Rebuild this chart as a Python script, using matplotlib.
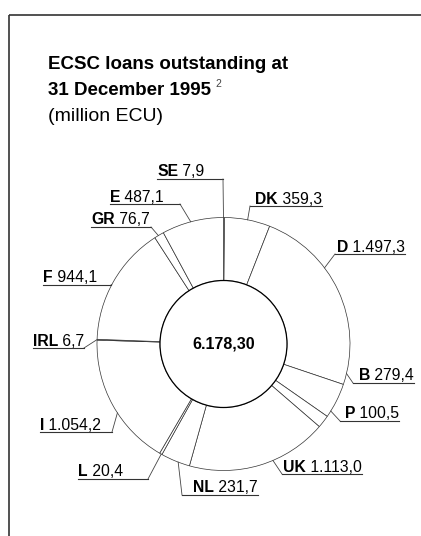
import numpy as np
import matplotlib
matplotlib.use("Agg")
import matplotlib.pyplot as plt
from matplotlib.patches import Circle

# loans outstanding, million ECU, clockwise from 12 o'clock
countries = ["SE", "DK", "D", "B", "P", "UK", "NL", "L", "I", "IRL", "F", "GR", "E"]
loans = [7.9, 359.3, 1497.3, 279.4, 100.5, 1113.0, 231.7, 20.4, 1054.2, 6.7, 944.1, 76.7, 487.1]

W, H = 421, 536
CX, CY, R_OUT, R_IN = 223.5, 344, 126.5, 63.5

# label layout (pixel coords from top-left): text x, underline y, join point, ring angle
layout = {
    "SE":  (157, 179, (223, 179), 0),
    "E":   (110, 204, (180, 204), 345),
    "DK":  (255, 206, (250, 206), 11),
    "GR":  (91, 227, (151, 227), 329),
    "D":   (337, 254, (335, 254), 53),
    "F":   (43, 285, (111, 285), 298),
    "IRL": (33, 348, (84, 348), 272),
    "B":   (359, 383, (353, 383), 103.5),
    "P":   (345, 421, (340, 421), 122),
    "UK":  (283, 474, (282, 474), 157),
    "NL":  (193, 495, (182, 495), 201),
    "L":   (78, 479, (148, 479), 209.5),
    "I":   (40, 432, (112, 432), 237),
}

def Y(y):
    return H - y

def eu(v, nd=1):
    s = f"{v:,.{nd}f}"
    return s.replace(",", "#").replace(".", ",").replace("#", ".")

def ring_point(ang):
    a = np.deg2rad(ang)
    return CX + R_OUT * np.sin(a), CY - R_OUT * np.cos(a)

fig = plt.figure(figsize=(W / 100, H / 100), dpi=100)
ax = fig.add_axes([0, 0, 1, 1])

ax.pie(loans, startangle=90, counterclock=False, center=(CX, Y(CY)), radius=R_OUT,
       wedgeprops=dict(width=R_OUT - R_IN, facecolor="white", edgecolor="#333333", linewidth=0.5))
ax.add_patch(Circle((CX, Y(CY)), R_IN, facecolor="white", edgecolor="black", linewidth=0.9))
ax.set_xlim(0, W)
ax.set_ylim(0, H)
ax.set_aspect("equal")
ax.axis("off")

ax.text(CX, Y(CY), eu(sum(loans), 2), ha="center", va="center", fontsize=11.5,
        fontweight="bold", family="Liberation Sans")

# frame
ax.plot([9, W], [Y(15), Y(15)], color="#333333", lw=1.2, solid_capstyle="butt")
ax.plot([9, 9], [Y(15), Y(H)], color="#333333", lw=1.2, solid_capstyle="butt")

# title
ax.text(48, Y(69), "ECSC loans outstanding at", fontsize=13.5, fontweight="bold",
        family="Liberation Sans", va="baseline")
t2 = ax.text(48, Y(95), "31 December 1995", fontsize=13.5, fontweight="bold",
             family="Liberation Sans", va="baseline")
ax.text(48, Y(121), "(million ECU)", fontsize=14, family="Liberation Sans", va="baseline")

r = fig.canvas.get_renderer()
e = t2.get_window_extent(renderer=r)
ax.text(e.x1 + 4, Y(87), "2", fontsize=7.5, color="#444444", family="Liberation Sans",
        va="baseline")

for code, val in zip(countries, loans):
    tx, uly, (jx, jy), ang = layout[code]
    t = ax.text(tx, Y(uly - 2.5), code, fontsize=11.3, fontweight="bold",
                family="Liberation Sans", va="baseline")
    ex = t.get_window_extent(renderer=r)
    tv = ax.text(ex.x1, Y(uly - 2.5), " " + eu(val), fontsize=11.3,
                 family="Liberation Sans", va="baseline")
    ev = tv.get_window_extent(renderer=r)
    x0, x1 = min(tx, jx), max(ev.x1, jx)
    ax.plot([x0, x1], [Y(uly), Y(uly)], color="#333333", lw=0.8)
    rx, ry = ring_point(ang)
    ax.plot([jx, rx], [Y(jy), Y(ry)], color="#444444", lw=0.6)

fig.savefig("out.png", dpi=100)
